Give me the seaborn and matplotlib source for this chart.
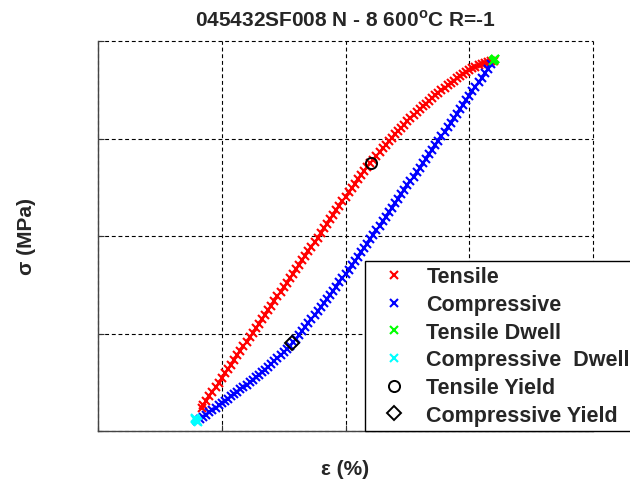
import matplotlib
matplotlib.use("Agg")
import matplotlib.pyplot as plt
import seaborn as sns
import pandas as pd

# Loading branch (tensile), strain in %, stress in MPa
tensile_strain = [
    -0.465, -0.46, -0.45, -0.44, -0.43, -0.42, -0.41, -0.40, -0.39, -0.38,
    -0.37, -0.36, -0.35, -0.34, -0.33, -0.32, -0.31, -0.30, -0.29, -0.28,
    -0.27, -0.26, -0.25, -0.24, -0.23, -0.22, -0.21, -0.20, -0.19, -0.18,
    -0.17, -0.16, -0.15, -0.14, -0.13, -0.12, -0.11, -0.10, -0.09, -0.08,
    -0.07, -0.06, -0.05, -0.04, -0.03, -0.02, -0.01, 0.00, 0.01, 0.02,
    0.03, 0.04, 0.05, 0.06, 0.07, 0.08, 0.09, 0.10, 0.11, 0.12,
    0.13, 0.14, 0.15, 0.16, 0.17, 0.18, 0.19, 0.20, 0.21, 0.22,
    0.23, 0.24, 0.25, 0.26, 0.27, 0.28, 0.29, 0.30, 0.31, 0.32,
    0.33, 0.34, 0.35, 0.36, 0.37, 0.38, 0.39, 0.40, 0.41, 0.42,
    0.43, 0.44, 0.45, 0.46, 0.47, 0.48,
]
tensile_stress = [
    -880, -868, -845, -821, -798, -775, -752, -729, -705, -682,
    -659, -636, -612, -589, -566, -543, -519, -496, -473, -450,
    -426, -403, -380, -357, -333, -310, -287, -264, -240, -217,
    -194, -171, -148, -124, -101, -78, -54, -31, -8, 15,
    39, 62, 85, 108, 132, 155, 178, 201, 224, 246,
    268, 290, 311, 332, 352, 372, 392, 412, 431, 450,
    468, 486, 504, 521, 538, 555, 571, 588, 604, 620,
    635, 650, 665, 679, 693, 707, 721, 734, 747, 760,
    773, 785, 797, 809, 820, 831, 842, 851, 860, 868,
    875, 881, 886, 891, 896, 900,
]

# Unloading branch (compressive)
compressive_strain = [
    0.47, 0.46, 0.45, 0.44, 0.43, 0.42, 0.41, 0.40, 0.39, 0.38,
    0.37, 0.36, 0.35, 0.34, 0.33, 0.32, 0.31, 0.30, 0.29, 0.28,
    0.27, 0.26, 0.25, 0.24, 0.23, 0.22, 0.21, 0.20, 0.19, 0.18,
    0.17, 0.16, 0.15, 0.14, 0.13, 0.12, 0.11, 0.10, 0.09, 0.08,
    0.07, 0.06, 0.05, 0.04, 0.03, 0.02, 0.01, 0.00, -0.01, -0.02,
    -0.03, -0.04, -0.05, -0.06, -0.07, -0.08, -0.09, -0.10, -0.11, -0.12,
    -0.13, -0.14, -0.15, -0.16, -0.17, -0.18, -0.19, -0.20, -0.21, -0.22,
    -0.23, -0.24, -0.25, -0.26, -0.27, -0.28, -0.29, -0.30, -0.31, -0.32,
    -0.33, -0.34, -0.35, -0.36, -0.37, -0.38, -0.39, -0.40, -0.41, -0.42,
    -0.43, -0.44, -0.45, -0.46, -0.47, -0.48,
]
compressive_stress = [
    880, 857, 834, 811, 788, 765, 742, 719, 696, 673,
    650, 627, 604, 581, 558, 535, 512, 489, 466, 443,
    420, 397, 374, 351, 328, 305, 282, 259, 236, 213,
    190, 167, 144, 121, 98, 75, 52, 29, 6, -16,
    -39, -62, -84, -107, -129, -151, -173, -195, -217, -238,
    -260, -281, -303, -324, -345, -366, -386, -407, -428, -448,
    -468, -488, -507, -527, -545, -563, -580, -596, -612, -627,
    -642, -657, -671, -685, -698, -711, -724, -737, -749, -762,
    -774, -786, -798, -810, -822, -834, -846, -858, -869, -881,
    -892, -904, -916, -927, -939, -950,
]

# Hold periods at the strain extremes
tensile_dwell_strain = [0.478, 0.480, 0.482, 0.484]
tensile_dwell_stress = [898, 902, 906, 909]
compressive_dwell_strain = [-0.476, -0.479, -0.482, -0.485, -0.488]
compressive_dwell_stress = [-955, -950, -945, -940, -935]

# Yield points
tensile_yield_strain = [0.082]
tensile_yield_stress = [373]
compressive_yield_strain = [-0.172]
compressive_yield_stress = [-550]

x_ticks = [-0.8, -0.4, 0.0, 0.4, 0.8]
y_ticks = [-1000, -500, 0, 500, 1000]

title_text = r"045432SF008 N - 8 600$^{\mathbf{o}}$C R=-1"

sns.set_style("white")
plt.rcParams["font.family"] = ["Liberation Sans", "DejaVu Sans"]
plt.rcParams["font.weight"] = "bold"
plt.rcParams["mathtext.fontset"] = "custom"
plt.rcParams["mathtext.rm"] = "Liberation Sans"
plt.rcParams["mathtext.bf"] = "Liberation Sans:bold"

fig = plt.figure(figsize=(6.3, 4.85), dpi=100)
ax = fig.add_axes([98 / 630, 53 / 485, 495 / 630, 390 / 485])

def series(xs, ys):
    return pd.DataFrame({"strain": xs, "stress": ys})

def cross_series(xs, ys, colour, name):
    sns.lineplot(data=series(xs, ys), x="strain", y="stress", sort=False,
                 estimator=None, marker="x", linestyle="none", markersize=5.5,
                 markeredgewidth=1.5, color=colour, markeredgecolor=colour,
                 label=name, ax=ax)

cross_series(tensile_strain, tensile_stress, "#ff0000", "Tensile")
cross_series(compressive_strain, compressive_stress, "#0000ff", "Compressive")
cross_series(tensile_dwell_strain, tensile_dwell_stress, "#00ff00", "Tensile Dwell")
cross_series(compressive_dwell_strain, compressive_dwell_stress, "#00ffff",
             "Compressive  Dwell")

sns.lineplot(data=series(tensile_yield_strain, tensile_yield_stress),
             x="strain", y="stress", sort=False, estimator=None, marker="o",
             linestyle="none", markersize=8, markerfacecolor="none",
             markeredgecolor="black", markeredgewidth=1.4, color="black",
             label="Tensile Yield", ax=ax)
sns.lineplot(data=series(compressive_yield_strain, compressive_yield_stress),
             x="strain", y="stress", sort=False, estimator=None, marker="D",
             linestyle="none", markersize=7, markerfacecolor="none",
             markeredgecolor="black", markeredgewidth=1.4, color="black",
             label="Compressive Yield", ax=ax)

ax.set_xlim(x_ticks[0], x_ticks[-1])
ax.set_ylim(y_ticks[0], y_ticks[-1])
ax.set_xticks(x_ticks)
ax.set_yticks(y_ticks)
ax.set_xticklabels([])
ax.set_yticklabels([])
ax.tick_params(direction="in", length=4, width=0.8, color="#333333",
               bottom=True, left=True, top=False, right=False)
ax.grid(True, color="black", linestyle=(0, (3.5, 2.5)), linewidth=0.8)
ax.set_axisbelow(True)
for gl in ax.get_xgridlines() + ax.get_ygridlines():
    gl.set_clip_on(False)
for side in ("top", "right"):
    ax.spines[side].set_visible(False)
for side in ("left", "bottom"):
    ax.spines[side].set_color("#444444")
    ax.spines[side].set_linewidth(1.0)

ax.set_title(title_text, fontsize=15, fontweight="bold", pad=11)
ax.set_xlabel("ε (%)", fontsize=15, fontweight="bold", va="center")
ax.set_ylabel("σ (MPa)", fontsize=15, fontweight="bold", va="center")
ax.xaxis.set_label_coords(0.5, -0.097)
ax.yaxis.set_label_coords(-0.144, 0.5)

handles, labels = ax.get_legend_handles_labels()
leg = ax.legend(handles, labels, loc="upper left",
                bbox_to_anchor=(365 / 630, 1 - 262 / 485),
                bbox_transform=fig.transFigure, borderaxespad=0,
                fontsize=15.5, frameon=True, fancybox=False, shadow=False,
                framealpha=1, edgecolor="black", handlelength=2.2,
                handletextpad=0.4, labelspacing=0.31, borderpad=0.25)
leg.get_frame().set_linewidth(1.0)
for t in leg.get_texts():
    t.set_fontweight("bold")

fig.savefig("out.png", dpi=100)
